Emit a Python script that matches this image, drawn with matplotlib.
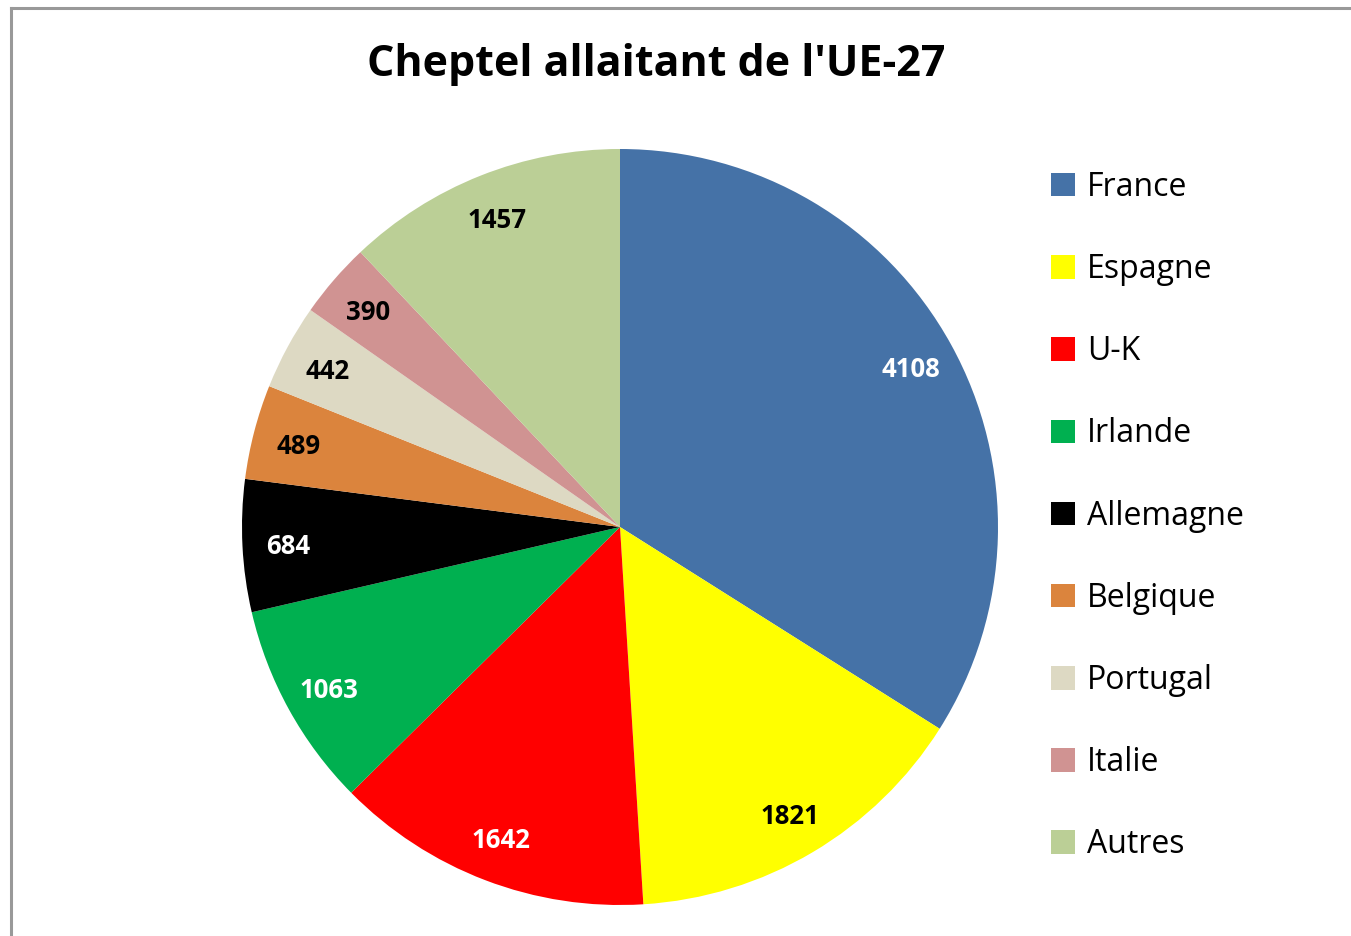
import matplotlib.pyplot as plt
from matplotlib.patches import Patch
from matplotlib.lines import Line2D

plt.rcParams['font.family'] = ['Open Sans', 'DejaVu Sans']

# données
pays = ["France", "Espagne", "U-K", "Irlande", "Allemagne", "Belgique", "Portugal", "Italie", "Autres"]
effectifs = [4108, 1821, 1642, 1063, 684, 489, 442, 390, 1457]
couleurs = ["#4572A7", "#FFFF00", "#FF0000", "#00B050", "#000000", "#DB843D", "#DDD9C3", "#D09392", "#BBCF96"]
couleurs_texte = ["white", "black", "white", "white", "white", "black", "black", "black", "black"]

total = sum(effectifs)

fig = plt.figure(figsize=(13.51, 9.36), dpi=100)

# cadre gris (gauche et haut)
fig.add_artist(Line2D([10.5 / 1351, 10.5 / 1351], [0, 1 - 7.5 / 936], color="#999999", lw=2.2,
                      transform=fig.transFigure))
fig.add_artist(Line2D([10.5 / 1351, 1], [1 - 7.5 / 936, 1 - 7.5 / 936], color="#999999", lw=2.2,
                      transform=fig.transFigure))

# camembert : centre (620, 527), rayon 378 px
cx, cy, r = 620, 527, 378
ax = fig.add_axes([(cx - r) / 1351, (936 - cy - r) / 936, 2 * r / 1351, 2 * r / 936])
wedges, _, autotexts = ax.pie(effectifs, colors=couleurs, startangle=90, counterclock=False,
                              autopct=lambda p: "%d" % round(p * total / 100), pctdistance=0.88,
                              wedgeprops={"linewidth": 0})
for t, c in zip(autotexts, couleurs_texte):
    t.set_color(c)
    t.set_fontsize(18.5)
    t.set_fontweight("bold")
    t.set_va("center_baseline")
ax.set_xlim(-1, 1)
ax.set_ylim(-1, 1)

fig.text(656 / 1351, 1 - 64 / 936, "Cheptel allaitant de l'UE-27", ha="center", va="center",
         fontsize=31, fontweight="bold")

# légende
handles = [Patch(facecolor=c, edgecolor="none") for c in couleurs]
fig.legend(handles, pays, loc="upper left", bbox_to_anchor=(1038 / 1351, 1 - 158 / 936),
           frameon=False, fontsize=23, handlelength=0.75, handleheight=0.75, handletextpad=0.38,
           labelspacing=1.54, borderaxespad=0)

plt.savefig("out.png", dpi=100)
